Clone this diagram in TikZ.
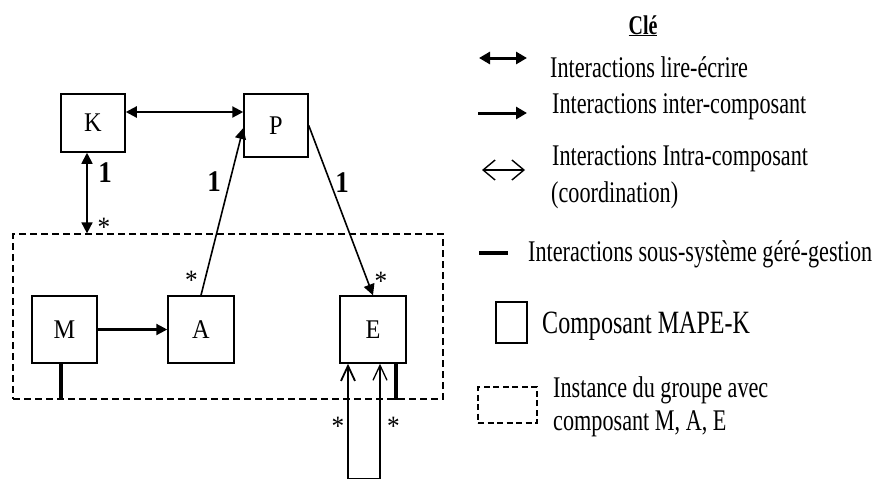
\documentclass[tikz,border=0pt]{standalone}
\usepackage{fontspec}
\setmainfont{Liberation Serif}
\newfontfamily\keyfont[FakeStretch=0.74]{Liberation Serif}
\newfontfamily\boxfont[FakeStretch=0.9]{Liberation Serif}
\usetikzlibrary{arrows.meta}
\tikzset{
  openhead/.tip={Straight Barb[length=15pt,width=14pt]},
  keyopen/.tip={Straight Barb[length=12pt,width=20pt]},
  solidhead/.tip={Triangle[length=11pt,width=11pt]},
}
\begin{document}
\begin{tikzpicture}[x=1pt,y=-1pt,
  comp/.style={draw, line width=1.5pt, inner sep=0pt, font=\boxfont\fontsize{27}{30}\selectfont},
  grp/.style={draw, line width=1.2pt, dash pattern=on 7pt off 4pt, inner sep=0pt},
  mult/.style={font=\boxfont\bfseries\fontsize{30}{32}\selectfont, inner sep=0pt},
  star/.style={font=\boxfont\fontsize{28}{30}\selectfont, inner sep=0pt, anchor=base},
  key/.style={font=\keyfont\fontsize{30}{34}\selectfont, inner sep=0pt, anchor=base west},
  rw/.style={line width=2.2pt, {solidhead}-{solidhead}},
  inter/.style={line width=1.6pt, -{solidhead}},
  intra/.style={line width=1.4pt},
  managed/.style={line width=4pt},
]
\useasboundingbox (0,0) rectangle (874,480);

% group instance holding M, A and E
\node[grp, minimum width=430pt, minimum height=165pt] (grp) at (228,316.5) {};

% MAPE-K components
\node[comp, minimum width=64pt, minimum height=58pt] (K) at (93,123) {K};
\node[comp, minimum width=64pt, minimum height=63pt] (P) at (276,125.5) {P};
\node[comp, minimum width=65pt, minimum height=67pt] (M) at (64.5,329.5) {M};
\node[comp, minimum width=66pt, minimum height=67pt] (A) at (201,329.5) {A};
\node[comp, minimum width=66pt, minimum height=67pt] (E) at (373,329.5) {E};

% read-write interactions
\draw[rw] (K.east |- 0,112) -- (P.west |- 0,112);
\draw[line width=1.7pt, {solidhead}-{solidhead}]
  (K.south -| 87,0) -- (grp.north -| 87,0);

% inter-component interactions
\draw[inter] (A.north) -- (P.west |- 0,128);
\draw[inter] (P.east) -- (E.north);
\draw[line width=2.2pt, -{solidhead}] (M.east) -- (A.west);

% managed subsystem links
\draw[managed] (M.south -| 61,0) -- (grp.south -| 61,0);
\draw[managed] (E.south -| 396,0) -- (grp.south -| 396,0);

% intra-component coordination loop under E
\coordinate (loopL) at (348,478.5);
\coordinate (loopR) at (380,478.5);
\draw[line width=1.8pt, {openhead}-] (E.south -| loopL) -- (loopL);
\draw[line width=1.2pt] (loopL) -- (loopR);
\draw[line width=1.3pt, -{openhead}] (loopR) -- (E.south -| loopR);

% multiplicities
\node[mult] (m1) at (105,173) {1};
\node[mult] (m2) at (214,182) {1};
\node[mult] (m3) at (342,183) {1};
\node[star] (s1) at (104,236) {*};
\node[star] (s2) at (191.5,289) {*};
\node[star] (s3) at (381,290) {*};
\node[star] (s4) at (338,435.5) {*};
\node[star] (s5) at (393.5,435.5) {*};

% key
\node[font=\keyfont\bfseries\fontsize{27}{30}\selectfont, inner sep=0pt, anchor=base] (title) at (643,34) {\underline{Clé}};

\coordinate (k1a) at (479,58);  \coordinate (k1b) at (527,58);
\draw[line width=3pt, {Triangle[length=11pt,width=12pt]}-{Triangle[length=11pt,width=12pt]}] (k1a) -- (k1b);
\node[key] (t1) at (550,77) {Interactions lire-écrire};

\coordinate (k2a) at (478,113); \coordinate (k2b) at (527,113);
\draw[line width=3pt, -{Triangle[length=11pt,width=12pt]}] (k2a) -- (k2b);
\node[key] (t2) at (552,113) {Interactions inter-composant};

\coordinate (k3a) at (482,170); \coordinate (k3b) at (525,170);
\draw[intra, {keyopen}-{keyopen}] (k3a) -- (k3b);
\node[key] (t3) at (552,165) {Interactions Intra-composant};
\node[key] (t3b) at (551,202) {(coordination)};

\coordinate (k4a) at (479,253); \coordinate (k4b) at (508,253);
\draw[line width=3.5pt] (k4a) -- (k4b);
\node[key] (t4) at (528,261) {Interactions sous-système géré-gestion};

\node[draw, line width=1.3pt, minimum width=31pt, minimum height=41pt, inner sep=0pt] (k5) at (511.5,322.5) {};
\node[key, font=\keyfont\fontsize{32.5}{36}\selectfont] (t5) at (542,333) {Composant MAPE-K};

\node[grp, line width=1.1pt, dash pattern=on 6pt off 3.5pt, minimum width=59pt, minimum height=36pt] (k6) at (507.5,405) {};
\node[key] (t6) at (553,397) {Instance du groupe avec};
\node[key] (t6b) at (553,430) {composant M, A, E};
\end{tikzpicture}
\end{document}
